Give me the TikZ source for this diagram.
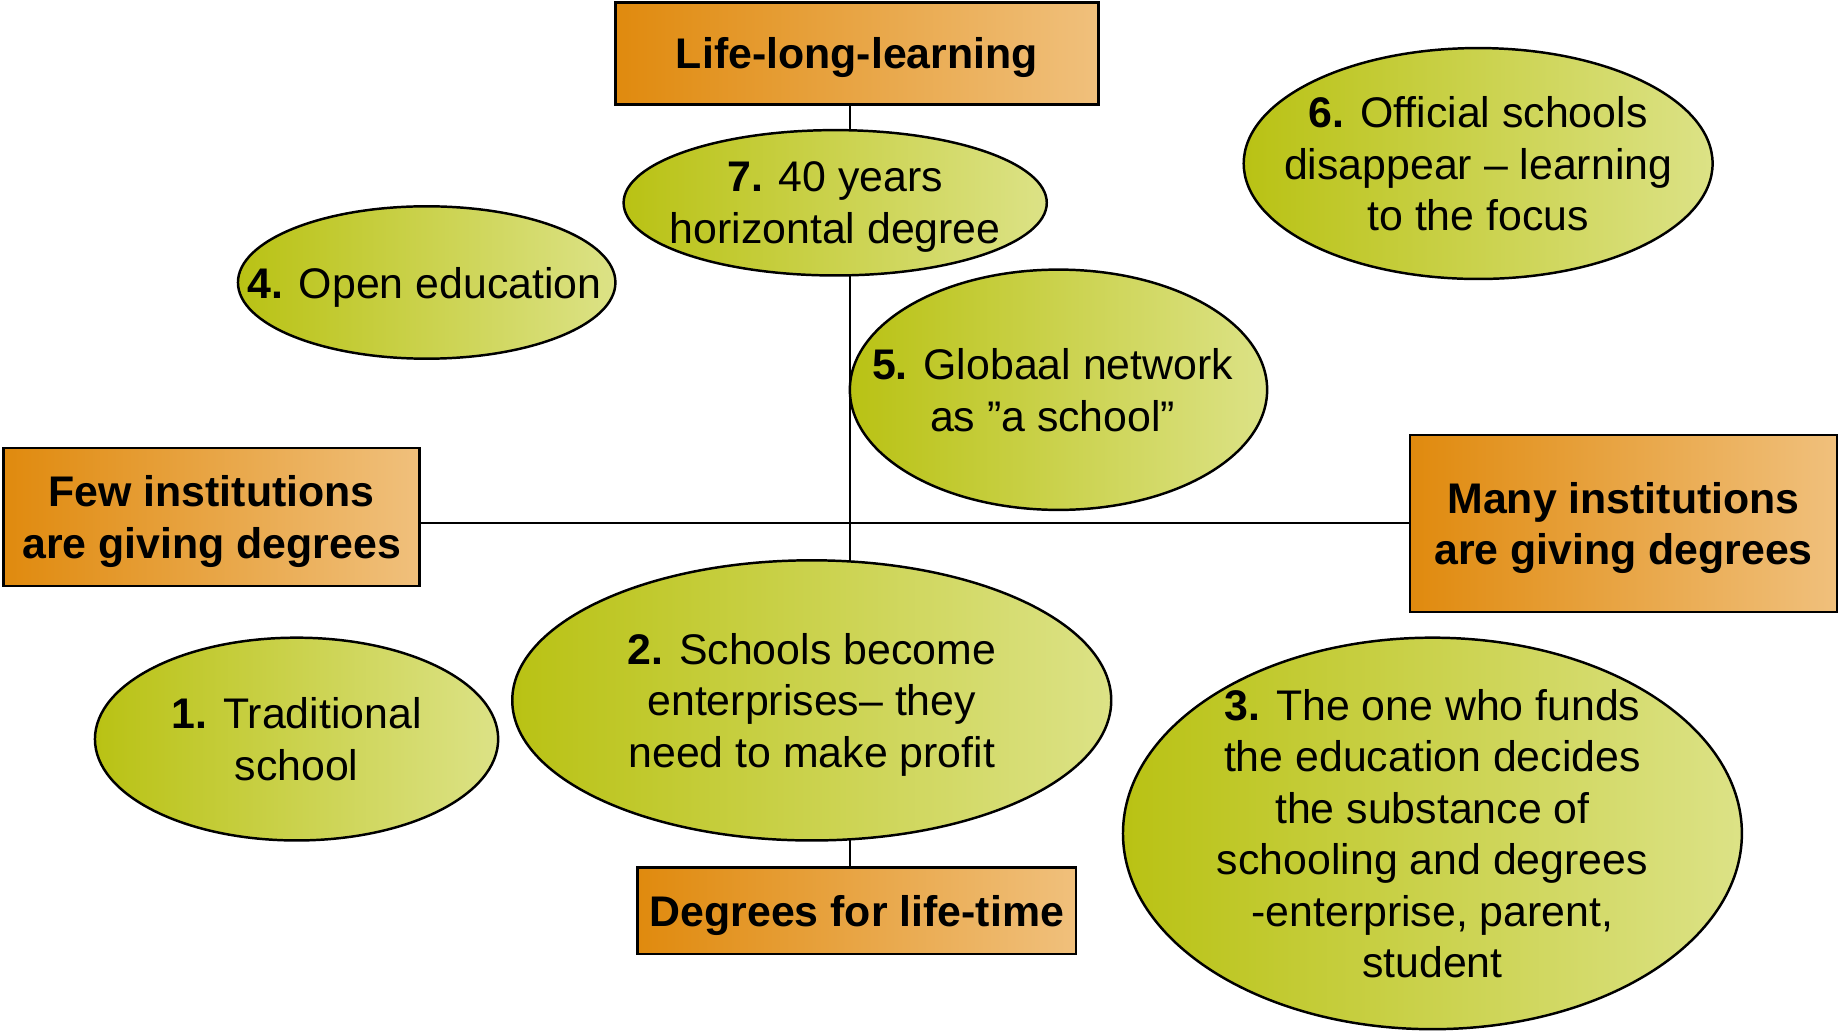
\documentclass[tikz,border=0pt]{standalone}
\usepackage{fontspec}
\setmainfont{Liberation Sans}
\usetikzlibrary{shapes.geometric}

\definecolor{orangeL}{HTML}{E08A0E}
\definecolor{orangeR}{HTML}{F0C07C}
\definecolor{greenL}{HTML}{B9C214}
\definecolor{greenR}{HTML}{DCE286}

\tikzset{
    box/.style={draw, line width=0.6pt, left color=orangeL, right color=orangeR,
        align=center, inner sep=0pt, text depth=0pt, font=\bfseries\fontsize{10.4}{12.5}\selectfont},
    bubble/.style={ellipse, draw, line width=0.6pt, left color=greenL, right color=greenR, inner sep=0pt},
    bubbletext/.style={align=center, inner sep=0pt, text depth=0pt, font=\fontsize{10.4}{12.5}\selectfont},
}

\begin{document}
\begin{tikzpicture}
    \useasboundingbox (0,0) rectangle (15.68,8.80);

    % axes
    \node[box, minimum width=4.12cm, minimum height=0.87cm] (life) at (7.31,8.345) {Life-long-learning};
    \node[box, minimum width=3.74cm, minimum height=0.74cm] (lifetime) at (7.31,1.03) {Degrees for life-time};
    \node[box, minimum width=3.55cm, minimum height=1.18cm] (few) at (1.805,4.39) {Few institutions\\ are giving degrees};
    \node[box, minimum width=3.64cm, minimum height=1.51cm] (many) at (13.85,4.335) {Many institutions\\ are giving degrees};

    \coordinate (hub) at (7.25,4.34);
    \draw[line width=0.5pt] (life.south -| hub) -- (lifetime.north -| hub);
    \draw[line width=0.5pt] (few.east |- hub) -- (many.west |- hub);

    % scenarios
    \node[bubble, minimum width=3.61cm, minimum height=1.24cm] (s7) at (7.125,7.07) {};
    \node[bubbletext] at (s7) {\textbf{7.} 40 years\\ horizontal degree};
    \node[bubble, minimum width=3.22cm, minimum height=1.30cm] (s4) at (3.64,6.39) {};
    \node[bubbletext] at ([xshift=-0.02cm]s4) {\textbf{4.} Open education};
    \node[bubble, minimum width=4.00cm, minimum height=1.97cm] (s6) at (12.61,7.405) {};
    \node[bubbletext] at (s6) {\textbf{6.} Official schools\\ disappear – learning\\ to the focus};
    \node[bubble, minimum width=3.56cm, minimum height=2.05cm] (s5) at (9.03,5.475) {};
    \node[bubbletext] at ([xshift=-0.05cm]s5) {\textbf{5.} Globaal network\\ as ”a school”};
    \node[bubble, minimum width=3.44cm, minimum height=1.73cm] (s1) at (2.53,2.495) {};
    \node[bubbletext] at (s1) {\textbf{1.} Traditional\\ school};
    \node[bubble, minimum width=5.11cm, minimum height=2.39cm] (s2) at (6.925,2.825) {};
    \node[bubbletext] at (s2) {\textbf{2.} Schools become\\ enterprises– they\\ need to make profit};
    \node[bubble, minimum width=5.28cm, minimum height=3.34cm] (s3) at (12.22,1.69) {};
    \node[bubbletext] at (s3) {\textbf{3.} The one who funds\\ the education decides\\ the substance of\\ schooling and degrees\\ -enterprise, parent,\\ student};
\end{tikzpicture}
\end{document}
